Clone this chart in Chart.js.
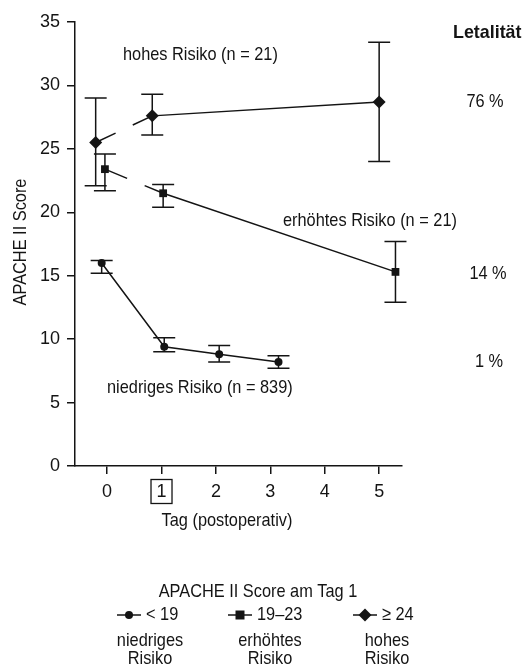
<!DOCTYPE html>
<html>
<head>
<meta charset="utf-8">
<script src="https://cdn.jsdelivr.net/npm/chart.js@4/dist/chart.umd.min.js"></script>
<style>
  html, body { margin: 0; padding: 0; background: #fff; }
  #wrap { width: 527px; height: 668px; position: relative; }
</style>
</head>
<body>
<div id="wrap"><canvas id="myChart"></canvas></div>
<script>
// x = postoperative day (slightly offset per group so bars don't overlap)
const lowDays = [-0.1, 1.05, 2.06, 3.15];
const lowMean = [16.0, 9.4, 8.8, 8.2];
const lowLower = [15.2, 9.0, 8.2, 7.7];
const lowUpper = [16.2, 10.1, 9.5, 8.7];

const midDays = [-0.04, 1.03, 5.3];
const midMean = [23.4, 21.5, 15.3];
const midLower = [21.7, 20.4, 12.9];
const midUpper = [24.6, 22.2, 17.7];

const highDays = [-0.21, 0.83, 5.0];
const highMean = [25.5, 27.6, 28.7];
const highLower = [22.1, 26.1, 24.0];
const highUpper = [29.0, 29.3, 33.4];

const groupLabels = ['niedriges Risiko (n = 839)', 'erhöhtes Risiko (n = 21)', 'hohes Risiko (n = 21)'];
const lethality = ['1 %', '14 %', '76 %'];
const legendRanges = ['< 19', '19–23', '≥ 24'];
const legendNames = [['niedriges', 'Risiko'], ['erhöhtes', 'Risiko'], ['hohes', 'Risiko']];

const INK = '#141414';
const FONT = '"Liberation Sans", Arial, sans-serif';
const SQUEEZE = 0.86; // the original uses a condensed face

function toPoints(xs, ys) {
  return xs.map((x, i) => ({ x: x, y: ys[i] }));
}

// condensed text: draw with a horizontal squeeze
function text(ctx, str, x, y, align, rot, sq) {
  ctx.save();
  ctx.translate(x, y);
  if (rot) ctx.rotate(rot);
  ctx.scale(sq || SQUEEZE, 1);
  ctx.textAlign = align || 'left';
  ctx.fillText(str, 0, 0);
  ctx.restore();
}

function drawMarker(ctx, style, x, y) {
  ctx.beginPath();
  if (style === 'circle') {
    ctx.arc(x, y, 4, 0, Math.PI * 2);
  } else if (style === 'rect') {
    ctx.rect(x - 4.5, y - 4.5, 9, 9);
  } else {
    ctx.moveTo(x, y - 6.5); ctx.lineTo(x + 6.5, y); ctx.lineTo(x, y + 6.5); ctx.lineTo(x - 6.5, y);
    ctx.closePath();
  }
  ctx.fill();
}

const annotations = {
  id: 'annotations',
  beforeDatasetsDraw(chart) {
    // error bars under the markers
    const ctx = chart.ctx;
    const xs = chart.scales.x, ys = chart.scales.y;
    ctx.save();
    ctx.strokeStyle = INK;
    ctx.lineWidth = 1.5;
    chart.data.datasets.forEach(ds => {
      ds.data.forEach((p, i) => {
        const px = xs.getPixelForValue(p.x);
        const y1 = ys.getPixelForValue(ds.lower[i]);
        const y2 = ys.getPixelForValue(ds.upper[i]);
        const w = 11;
        ctx.beginPath();
        ctx.moveTo(px, y1); ctx.lineTo(px, y2);
        ctx.moveTo(px - w, y1); ctx.lineTo(px + w, y1);
        ctx.moveTo(px - w, y2); ctx.lineTo(px + w, y2);
        ctx.stroke();
      });
    });
    ctx.restore();
  },
  afterDraw(chart) {
    const ctx = chart.ctx;
    const xs = chart.scales.x;
    ctx.save();
    ctx.fillStyle = INK;
    ctx.strokeStyle = INK;
    ctx.textBaseline = 'middle';
    ctx.font = '19px ' + FONT;

    // y axis title
    text(ctx, 'APACHE II Score', 21, 242, 'center', -Math.PI / 2);

    // group labels inside the plot
    text(ctx, groupLabels[2], 123, 55);
    text(ctx, groupLabels[1], 283, 221);
    text(ctx, groupLabels[0], 107, 388);

    // lethality column
    ctx.font = 'bold 19px ' + FONT;
    text(ctx, 'Letalität', 453, 33, 'left', 0, 0.94);
    ctx.font = '19px ' + FONT;
    text(ctx, lethality[2], 485, 102, 'center');
    text(ctx, lethality[1], 488, 274, 'center');
    text(ctx, lethality[0], 489, 362, 'center');

    // box around day 1
    const b = xs.getPixelForValue(1);
    ctx.lineWidth = 1.3;
    ctx.strokeRect(b - 10.5, 479.5, 21, 24);

    // x axis title
    text(ctx, 'Tag (postoperativ)', 227, 521, 'center');

    // legend
    text(ctx, 'APACHE II Score am Tag 1', 258, 592, 'center');
    const styles = ['circle', 'rect', 'rectRot'];
    const lineX = [117, 228, 353];
    const nameX = [150, 270, 387];
    for (let i = 0; i < 3; i++) {
      ctx.lineWidth = 1.5;
      ctx.beginPath();
      ctx.moveTo(lineX[i], 615); ctx.lineTo(lineX[i] + 24, 615);
      ctx.stroke();
      drawMarker(ctx, styles[i], lineX[i] + 12, 615);
      text(ctx, legendRanges[i], lineX[i] + 29, 615);
      text(ctx, legendNames[i][0], nameX[i], 641, 'center');
      text(ctx, legendNames[i][1], nameX[i], 659, 'center');
    }
    ctx.restore();
  }
};

const breakFirst = (pattern) => ({
  borderDash: ctx => ctx.p0DataIndex === 0 ? pattern : undefined
});

const config = {
  type: 'line',
  data: {
    datasets: [
      {
        label: legendRanges[0],
        data: toPoints(lowDays, lowMean),
        lower: lowLower, upper: lowUpper,
        pointStyle: 'circle', pointRadius: 4
      },
      {
        label: legendRanges[1],
        data: toPoints(midDays, midMean),
        lower: midLower, upper: midUpper,
        pointStyle: 'rect', pointRadius: 5.5,
        segment: breakFirst([24, 19])
      },
      {
        label: legendRanges[2],
        data: toPoints(highDays, highMean),
        lower: highLower, upper: highUpper,
        pointStyle: 'rectRot', pointRadius: 6.5,
        segment: breakFirst([22, 19])
      }
    ]
  },
  options: {
    responsive: true,
    maintainAspectRatio: false,
    animation: false,
    events: [],
    layout: { padding: { left: 0, top: 22, right: 125, bottom: 132 } },
    elements: {
      line: { borderColor: INK, borderWidth: 1.5, tension: 0, fill: false },
      point: { backgroundColor: INK, borderColor: INK, borderWidth: 0, hoverRadius: 0 }
    },
    plugins: {
      legend: { display: false },
      tooltip: { enabled: false }
    },
    scales: {
      x: {
        type: 'linear',
        min: -0.59,
        max: 5.42,
        afterFit: s => { s.height = 70; },
        border: { display: true, color: INK, width: 1.5 },
        grid: { display: true, drawOnChartArea: false, drawTicks: true, tickLength: 8, color: INK, lineWidth: 1.5 },
        ticks: {
          stepSize: 1,
          includeBounds: false,
          color: INK,
          padding: 7,
          maxRotation: 0,
          font: { family: FONT, size: 18 }
        }
      },
      y: {
        min: 0,
        max: 35,
        afterFit: s => { s.width = 75; },
        border: { display: true, color: INK, width: 1.5 },
        grid: { display: true, drawOnChartArea: false, drawTicks: true, tickLength: 8, color: INK, lineWidth: 1.5 },
        ticks: {
          stepSize: 5,
          color: INK,
          padding: 7,
          font: { family: FONT, size: 18 }
        }
      }
    }
  },
  plugins: [annotations]
};

new Chart(document.getElementById('myChart'), config);
</script>
</body>
</html>
